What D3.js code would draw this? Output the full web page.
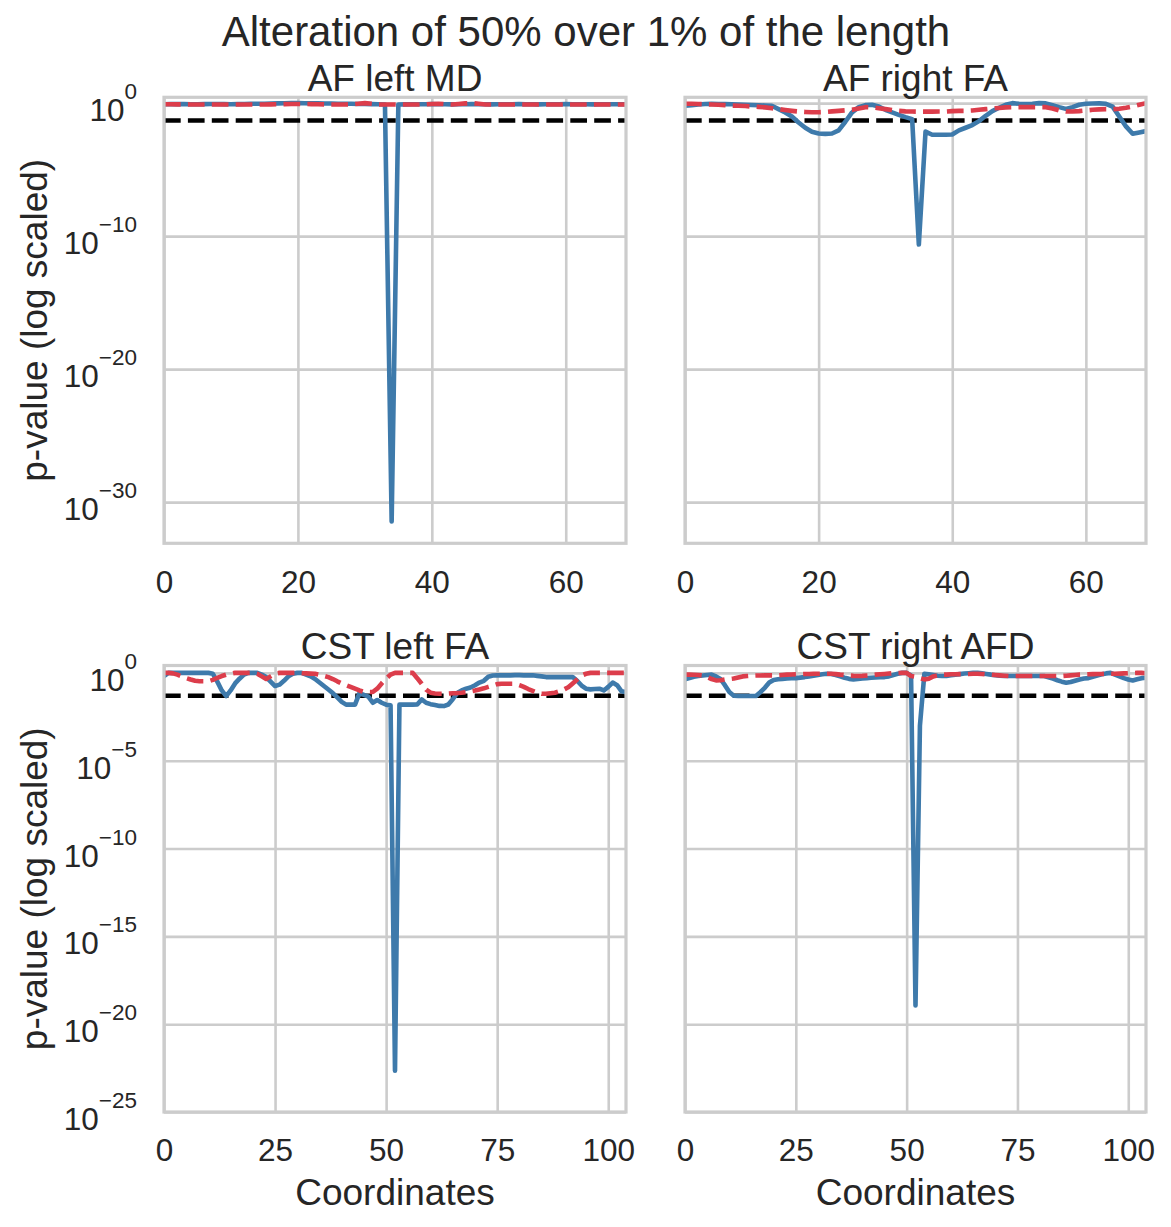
<!DOCTYPE html>
<html>
<head>
<meta charset="utf-8">
<script src="https://cdn.jsdelivr.net/npm/d3@7"></script>
<style>
  body { margin: 0; background: #fff; }
  svg { font-family: "Liberation Sans", Arial, sans-serif; }
  text { fill: #262626; }
</style>
</head>
<body>
<div id="chart"></div>
<script>
// Data: log10(p-value), one value per coordinate
const suptitle = "Alteration of 50% over 1% of the length";
const panelTitles = ["AF left MD", "AF right FA", "CST left FA", "CST right AFD"];
const alphaLevel = 0.05;
const topTickExp = [0, -10, -20, -30];
const bottomTickExp = [0, -5, -10, -15, -20, -25];
const topXTicks = [0, 20, 40, 60];
const bottomXTicks = [0, 25, 50, 75, 100];

const afLeftMdObs = [
  -0.08, -0.07, -0.06, -0.07, -0.08, -0.08, -0.07, -0.06, -0.06, -0.07,
  -0.08, -0.07, -0.06, -0.05, -0.05, -0.04, -0.03, -0.02, -0.01, 0,
  0, -0.01, -0.02, -0.02, -0.03, -0.03, -0.04, -0.04, -0.05, -0.06,
  -0.06, -0.07, -0.08, -0.1, -31.45, -0.1, -0.09, -0.08, -0.08, -0.08,
  -0.07, -0.08, -0.08, -0.09, -0.08, -0.08, -0.07, -0.08, -0.08, -0.09,
  -0.08, -0.08, -0.08, -0.07, -0.08, -0.08, -0.09, -0.08, -0.08, -0.08,
  -0.07, -0.08, -0.08, -0.08, -0.09, -0.08, -0.08, -0.08, -0.08, -0.08
];
const afLeftMdNull = [
  -0.08, -0.08, -0.09, -0.09, -0.1, -0.1, -0.1, -0.1, -0.1, -0.1,
  -0.1, -0.1, -0.1, -0.1, -0.1, -0.1, -0.09, -0.08, -0.07, -0.06,
  -0.06, -0.06, -0.07, -0.08, -0.09, -0.1, -0.1, -0.1, -0.08, -0.04,
  0, -0.05, -0.1, -0.1, -0.1, -0.1, -0.1, -0.1, -0.1, -0.09,
  -0.06, -0.04, -0.08, -0.1, -0.06, -0.02, 0, -0.05, -0.1, -0.1,
  -0.1, -0.1, -0.1, -0.1, -0.1, -0.1, -0.1, -0.1, -0.1, -0.1,
  -0.1, -0.1, -0.1, -0.1, -0.1, -0.1, -0.1, -0.1, -0.1, -0.1
];
const afRightFaObs = [
  -0.2, -0.15, -0.1, -0.06, -0.05, -0.06, -0.07, -0.08, -0.1, -0.12,
  -0.14, -0.16, -0.18, -0.2, -0.45, -0.7, -1.0, -1.45, -1.85, -2.15,
  -2.28, -2.31, -2.28, -2.05, -1.4, -0.7, -0.3, -0.15, -0.12, -0.25,
  -0.5, -0.7, -0.88, -1.05, -1.2, -10.63, -2.14, -2.38, -2.38, -2.38,
  -2.36, -2.05, -1.85, -1.65, -1.35, -0.95, -0.6, -0.35, -0.12, 0,
  -0.05, -0.06, -0.05, 0, -0.02, -0.15, -0.3, -0.43, -0.3, -0.12,
  -0.05, -0.03, -0.02, -0.05, -0.26, -1.0, -1.75, -2.3, -2.2, -2.1
];
const afRightFaNull = [
  -0.05, -0.05, -0.06, -0.08, -0.1, -0.12, -0.15, -0.18, -0.2, -0.22,
  -0.25, -0.28, -0.32, -0.38, -0.45, -0.52, -0.58, -0.63, -0.66, -0.68,
  -0.68, -0.66, -0.62, -0.58, -0.54, -0.5, -0.4, -0.3, -0.32, -0.38,
  -0.45, -0.52, -0.58, -0.62, -0.63, -0.64, -0.64, -0.64, -0.63, -0.63,
  -0.6, -0.58, -0.58, -0.55, -0.5, -0.45, -0.4, -0.36, -0.32, -0.3,
  -0.3, -0.3, -0.3, -0.3, -0.3, -0.4, -0.55, -0.63, -0.63, -0.6,
  -0.55, -0.5, -0.47, -0.45, -0.45, -0.42, -0.35, -0.25, -0.12, 0
];
const cstLeftFaObs = [
  -0.18, 0, 0, 0, 0, 0, 0, 0, 0, 0,
  0, -0.05, -0.5, -1.0, -1.32, -1.0, -0.6, -0.33, -0.1, 0,
  0, 0, -0.1, -0.24, -0.5, -0.75, -0.67, -0.45, -0.2, -0.05,
  0, 0, -0.1, -0.2, -0.35, -0.55, -0.75, -0.95, -1.15, -1.4,
  -1.65, -1.81, -1.81, -1.81, -1.15, -1.25, -1.35, -1.7, -1.55, -1.7,
  -1.81, -1.85, -22.65, -1.81, -1.81, -1.81, -1.81, -1.8, -1.51, -1.7,
  -1.78, -1.83, -1.88, -1.89, -1.8, -1.5, -1.15, -1.0, -0.9, -0.83,
  -0.7, -0.55, -0.45, -0.22, -0.15, -0.14, -0.14, -0.14, -0.14, -0.13,
  -0.13, -0.14, -0.14, -0.14, -0.17, -0.2, -0.24, -0.24, -0.24, -0.24,
  -0.24, -0.24, -0.24, -0.45, -0.72, -0.9, -0.94, -0.92, -0.9, -1.0,
  -0.8, -0.55, -0.7, -1.05, -1.1
];
const cstLeftFaNull = [
  0, 0, -0.03, -0.1, -0.2, -0.3, -0.38, -0.45, -0.48, -0.48,
  -0.48, -0.4, -0.28, -0.18, -0.1, -0.05, 0, 0, 0, 0,
  0, -0.05, -0.2, -0.35, -0.2, -0.05, 0, 0, 0, 0,
  0, -0.02, -0.03, -0.04, -0.05, -0.1, -0.17, -0.24, -0.35, -0.48,
  -0.6, -0.7, -0.8, -0.9, -1.0, -1.08, -1.09, -1.09, -0.9, -0.6,
  -0.33, -0.1, 0, 0, 0, 0, 0, -0.3, -0.62, -0.95,
  -1.13, -1.17, -1.19, -1.19, -1.18, -1.16, -1.15, -1.13, -1.1, -1.05,
  -1.0, -0.94, -0.88, -0.8, -0.72, -0.64, -0.62, -0.62, -0.62, -0.62,
  -0.7, -0.8, -0.92, -1.02, -1.12, -1.19, -1.19, -1.16, -1.13, -1.05,
  -0.95, -0.82, -0.6, -0.38, -0.15, -0.05, 0, 0, 0, 0,
  0, 0, 0, 0, 0
];
const cstRightAfdObs = [
  -0.37, -0.3, -0.22, -0.18, -0.15, -0.12, -0.1, -0.2, -0.35, -0.7,
  -1.09, -1.3, -1.32, -1.32, -1.32, -1.32, -1.32, -1.1, -0.85, -0.55,
  -0.4, -0.36, -0.34, -0.32, -0.31, -0.3, -0.27, -0.24, -0.2, -0.16,
  -0.12, -0.08, -0.05, -0.06, -0.12, -0.2, -0.28, -0.34, -0.37, -0.35,
  -0.32, -0.3, -0.28, -0.26, -0.25, -0.24, -0.2, -0.12, -0.05, 0,
  0, -0.15, -18.93, -3.0, -0.05, -0.08, -0.12, -0.16, -0.18, -0.17,
  -0.14, -0.1, -0.07, -0.04, -0.02, 0, 0, -0.03, -0.06, -0.1,
  -0.13, -0.16, -0.18, -0.18, -0.18, -0.18, -0.18, -0.18, -0.18, -0.18,
  -0.18, -0.18, -0.25, -0.33, -0.42, -0.5, -0.56, -0.52, -0.45, -0.38,
  -0.32, -0.3, -0.22, -0.15, -0.08, -0.03, 0, -0.1, -0.2, -0.3,
  -0.38, -0.43, -0.36, -0.3, -0.28
];
const cstRightAfdNull = [
  -0.1, -0.1, -0.11, -0.12, -0.15, -0.24, -0.35, -0.43, -0.42, -0.38,
  -0.35, -0.32, -0.26, -0.2, -0.18, -0.16, -0.15, -0.15, -0.14, -0.14,
  -0.14, -0.14, -0.12, -0.1, -0.09, -0.08, -0.07, -0.06, -0.06, -0.05,
  -0.05, -0.05, -0.05, -0.05, -0.07, -0.1, -0.12, -0.15, -0.17, -0.18,
  -0.17, -0.15, -0.13, -0.1, -0.08, -0.06, -0.04, -0.02, -0.01, 0,
  0, -0.18, -0.22, -0.3, -0.37, -0.33, -0.2, -0.14, -0.1, -0.1,
  -0.08, -0.08, -0.07, -0.07, -0.06, -0.05, -0.05, -0.06, -0.08, -0.1,
  -0.12, -0.14, -0.16, -0.18, -0.18, -0.18, -0.18, -0.18, -0.18, -0.18,
  -0.18, -0.18, -0.18, -0.18, -0.18, -0.18, -0.16, -0.14, -0.12, -0.1,
  -0.09, -0.08, -0.07, -0.06, -0.06, -0.05, -0.05, -0.05, -0.04, -0.03,
  -0.02, -0.01, 0, 0, -0.02
];

// Layout
const width = 1171, height = 1227;
const colX = [[164, 626], [685, 1146]];
const rowY = [[97.3, 543.3], [665.5, 1112]];
const rowDomain = [[-33.1, 0.44], [-25, 0.42]];
const rowTicks = [topTickExp, bottomTickExp];
const rowXTicks = [topXTicks, bottomXTicks];
const blue = "#3e7aab", red = "#dc3d4b", gridCol = "#cccccc";
const dash = "16.7,7.2";

const panels = [
  {title: panelTitles[0], obs: afLeftMdObs, nul: afLeftMdNull, row: 0, col: 0},
  {title: panelTitles[1], obs: afRightFaObs, nul: afRightFaNull, row: 0, col: 1},
  {title: panelTitles[2], obs: cstLeftFaObs, nul: cstLeftFaNull, row: 1, col: 0},
  {title: panelTitles[3], obs: cstRightAfdObs, nul: cstRightAfdNull, row: 1, col: 1}
];

const svg = d3.select("#chart").append("svg")
  .attr("width", width).attr("height", height);

svg.append("text")
  .attr("x", 586).attr("y", 46)
  .attr("text-anchor", "middle")
  .style("font-size", "42px")
  .text(suptitle);

panels.forEach((p, k) => {
  const [x0, x1] = colX[p.col], [y0, y1] = rowY[p.row];
  const x = d3.scaleLinear().domain([0, p.obs.length - 1]).range([x0, x1]);
  const dom = rowDomain[p.row];
  const y = d3.scaleLog().domain([10 ** dom[0], 10 ** dom[1]]).range([y1, y0]);

  const g = svg.append("g").attr("class", "panel");

  // grid (x)
  const gx = g.append("g")
    .attr("transform", `translate(0,${y1})`)
    .call(d3.axisBottom(x).tickValues(rowXTicks[p.row]).tickSize(-(y1 - y0)).tickPadding(27));
  gx.select(".domain").remove();
  gx.selectAll("line").attr("stroke", gridCol).attr("stroke-width", 2.6);
  gx.selectAll("text").style("font-size", "31.5px").attr("fill", "#262626");

  // grid (y) with math-style labels
  const gy = g.append("g")
    .attr("transform", `translate(${x0},0)`)
    .call(d3.axisLeft(y).tickValues(rowTicks[p.row].map(e => 10 ** e))
      .tickSize(-(x1 - x0)).tickPadding(27));
  gy.select(".domain").remove();
  gy.selectAll("line").attr("stroke", gridCol).attr("stroke-width", 2.6);
  gy.selectAll("text").each(function(d) {
    const t = d3.select(this);
    t.text(null).attr("dy", null).attr("fill", "#262626");
    if (p.col !== 0) return;
    const e = Math.round(Math.log10(d));
    t.attr("y", 17.5);
    t.append("tspan").style("font-size", "31.5px").text("10");
    t.append("tspan").style("font-size", "22.5px").attr("dy", -22)
      .text(e === 0 ? "0" : "\u2212" + Math.abs(e));
  });

  // lines
  const clipId = "clip" + k;
  svg.append("clipPath").attr("id", clipId)
    .append("rect").attr("x", x0).attr("y", y0).attr("width", x1 - x0).attr("height", y1 - y0);
  const lines = g.append("g").attr("clip-path", `url(#${clipId})`);
  const line = d3.line().x((d, i) => x(i)).y(d => y(10 ** d));

  lines.append("line")
    .attr("x1", x0).attr("x2", x1)
    .attr("y1", y(alphaLevel)).attr("y2", y(alphaLevel))
    .attr("stroke", "#000").attr("stroke-width", 4.6)
    .attr("stroke-dasharray", dash);
  lines.append("path").datum(p.obs)
    .attr("d", line).attr("fill", "none")
    .attr("stroke", blue).attr("stroke-width", 4.6)
    .attr("stroke-linejoin", "round");
  lines.append("path").datum(p.nul)
    .attr("d", line).attr("fill", "none")
    .attr("stroke", red).attr("stroke-width", 4.6)
    .attr("stroke-linejoin", "round")
    .attr("stroke-dasharray", dash);

  // spines
  g.append("rect")
    .attr("x", x0).attr("y", y0).attr("width", x1 - x0).attr("height", y1 - y0)
    .attr("fill", "none").attr("stroke", gridCol).attr("stroke-width", 3.2);

  // title
  g.append("text")
    .attr("x", (x0 + x1) / 2).attr("y", y0 - 6.6)
    .attr("text-anchor", "middle")
    .style("font-size", "37px")
    .text(p.title);

  // axis labels
  if (p.row === 1) {
    g.append("text")
      .attr("x", (x0 + x1) / 2).attr("y", 1205)
      .attr("text-anchor", "middle")
      .style("font-size", "37px")
      .text("Coordinates");
  }
  if (p.col === 0) {
    g.append("text")
      .attr("transform", `translate(47,${(y0 + y1) / 2}) rotate(-90)`)
      .attr("text-anchor", "middle")
      .style("font-size", "37px")
      .text("p-value (log scaled)");
  }
});
</script>
</body>
</html>
